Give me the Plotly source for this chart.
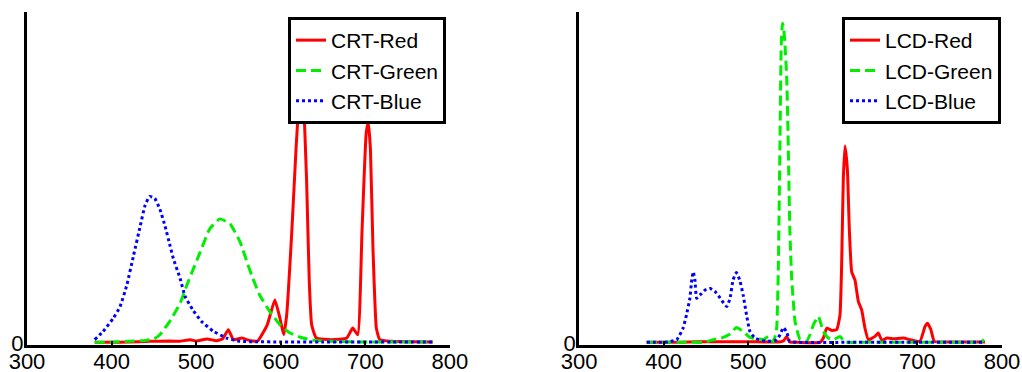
import plotly.graph_objects as go

# ---------------- data (wavelength nm, relative intensity) ----------------
crt_red_wl = [380, 400, 420, 445, 470, 480, 493, 500, 513, 524, 531, 538, 544, 554, 564, 573, 584, 593,
              599, 603.5, 607, 613, 618, 621.5, 624, 627, 630.6, 633.7, 636.5, 642, 660, 678, 685, 691,
              696, 701, 703.5, 706, 709, 713, 717, 730, 780]
crt_red_v = [0.002, 0.002, 0.003, 0.005, 0.006, 0.005, 0.01, 0.006, 0.012, 0.007, 0.012, 0.04, 0.01, 0.015,
             0.007, 0.007, 0.055, 0.13, 0.075, 0.025, 0.085, 0.335, 0.585, 0.735, 0.87, 0.735, 0.485, 0.185,
             0.055, 0.015, 0.01, 0.015, 0.045, 0.025, 0.335, 0.635, 0.667, 0.585, 0.285, 0.045, 0.01, 0.005,
             0.003]

crt_green_wl = [380, 400, 420, 440, 450, 457, 469, 481, 489, 496, 504, 516, 528, 540, 552, 560, 567, 575,
                587, 599, 611, 626, 640, 660, 700, 740, 780]
crt_green_v = [0.002, 0.003, 0.005, 0.008, 0.012, 0.025, 0.066, 0.12, 0.175, 0.22, 0.27, 0.345, 0.375, 0.36,
               0.305, 0.245, 0.195, 0.145, 0.095, 0.055, 0.03, 0.015, 0.008, 0.005, 0.003, 0.003, 0.003]

crt_blue_wl = [380, 390, 402, 410, 418, 426, 434, 439.5, 445, 451, 457, 463, 469, 473, 481, 487, 496, 506,
               520, 536, 552, 570, 600, 650, 700, 740, 780]
crt_blue_v = [0.01, 0.035, 0.075, 0.11, 0.175, 0.265, 0.355, 0.415, 0.443, 0.437, 0.405, 0.355, 0.295, 0.255,
              0.195, 0.14, 0.1, 0.066, 0.036, 0.015, 0.005, 0.004, 0.003, 0.003, 0.003, 0.003, 0.003]

lcd_red_wl = [380, 420, 441, 470, 498, 520, 535, 541.5, 545.5, 549, 560, 585, 588.8, 592.8, 598.7, 604.6,
              608.5, 610.5, 612.4, 614.4, 617.2, 619.5, 622.3, 626.2, 630.2, 634.1, 638, 642, 649.9, 653.8,
              658, 664, 672, 683.6, 691.5, 703, 709, 712, 716, 720, 740, 780]
lcd_red_v = [0.002, 0.002, 0.004, 0.004, 0.004, 0.003, 0.003, 0.006, 0.02, 0.003, 0.002, 0.002, 0.015, 0.045,
             0.038, 0.04, 0.085, 0.245, 0.495, 0.595, 0.525, 0.345, 0.215, 0.19, 0.125, 0.1, 0.045, 0.01,
             0.02, 0.03, 0.008, 0.015, 0.013, 0.015, 0.01, 0.005, 0.05, 0.06, 0.04, 0.005, 0.003, 0.003]

lcd_green_wl = [380, 413, 431, 446.6, 458.7, 470.6, 478.5, 486, 494, 502, 514, 518, 523.8, 529.7, 533.6,
                535.6, 537.6, 539, 540.5, 542, 543.5, 545.5, 547, 549.2, 551.4, 555.3, 561, 569, 573, 577,
                583, 588.8, 594.7, 600.6, 608.5, 614.4, 630, 680, 740, 775, 779]
lcd_green_v = [0.002, 0.002, 0.003, 0.002, 0.01, 0.017, 0.027, 0.047, 0.035, 0.017, 0.012, 0.01, 0.02, 0.003,
               0.045, 0.23, 0.625, 0.9, 0.966, 0.95, 0.9, 0.8, 0.64, 0.34, 0.195, 0.066, 0.012, 0.005, 0.025,
               0.055, 0.08, 0.035, 0.015, 0.01, 0.02, 0.003, 0.002, 0.002, 0.002, 0.003, 0.01]

lcd_blue_wl = [380, 405, 415.5, 423, 427, 431, 433, 435, 437, 439, 443, 449, 455, 461, 467, 474.6, 478.5,
               482, 486, 490, 494, 498, 502, 508, 522, 533.7, 537.6, 541.5, 545.5, 549, 560, 620, 700, 780]
lcd_blue_v = [0.002, 0.003, 0.01, 0.045, 0.085, 0.135, 0.185, 0.215, 0.19, 0.135, 0.145, 0.16, 0.165, 0.155,
              0.135, 0.11, 0.135, 0.19, 0.213, 0.19, 0.145, 0.085, 0.035, 0.015, 0.005, 0.01, 0.025, 0.047,
              0.033, 0.005, 0.002, 0.002, 0.002, 0.002]

x_ticks = [300, 400, 500, 600, 700, 800]
crt_names = ["CRT-Red", "CRT-Green", "CRT-Blue"]
lcd_names = ["LCD-Red", "LCD-Green", "LCD-Blue"]

# ---------------- styles ----------------
FONT = "Liberation Sans, Arial, sans-serif"
styles = [dict(color="#ff0000", dash="solid"),
          dict(color="#00ee00", dash="10px,5px"),
          dict(color="#0000ff", dash="dot")]

fig = go.Figure()
crt = [(crt_red_wl, crt_red_v), (crt_green_wl, crt_green_v), (crt_blue_wl, crt_blue_v)]
lcd = [(lcd_red_wl, lcd_red_v), (lcd_green_wl, lcd_green_v), (lcd_blue_wl, lcd_blue_v)]

for (wl, v), name, st in zip(crt, crt_names, styles):
    fig.add_trace(go.Scatter(x=wl, y=v, name=name, mode="lines", xaxis="x", yaxis="y", legend="legend",
                             line=dict(color=st["color"], dash=st["dash"], width=3, shape="spline",
                                       smoothing=0.4)))
for (wl, v), name, st in zip(lcd, lcd_names, styles):
    fig.add_trace(go.Scatter(x=wl, y=v, name=name, mode="lines", xaxis="x2", yaxis="y2", legend="legend2",
                             line=dict(color=st["color"], dash=st["dash"], width=3, shape="spline",
                                       smoothing=0.4)))

xax = dict(range=[300, 800], tickvals=x_ticks, showline=True, linewidth=3, linecolor="black",
           ticks="inside", ticklen=4, tickwidth=2, tickcolor="black", showgrid=False, zeroline=False,
           automargin=False, ticklabelstandoff=-5,
           tickfont=dict(size=22, color="black", family=FONT), fixedrange=True)
yax = dict(range=[-0.006, 1.0], tickvals=[0], ticktext=["0"], showline=True, linewidth=3,
           linecolor="black", ticks="", showgrid=False, zeroline=False, automargin=False,
           ticklabelstandoff=-4,
           tickfont=dict(size=22, color="black", family=FONT), fixedrange=True)

leg = dict(xanchor="left", yanchor="top", y=0.985, bgcolor="white", bordercolor="black", borderwidth=3,
           font=dict(size=21, color="black", family=FONT), tracegroupgap=0, itemwidth=30)

fig.update_layout(
    width=1022, height=372,
    margin=dict(l=27, r=20, t=12, b=27, autoexpand=False),
    paper_bgcolor="white", plot_bgcolor="white",
    font=dict(family=FONT, color="black"),
    xaxis=dict(domain=[0, 0.4338], anchor="y", **xax),
    yaxis=dict(anchor="x", **yax),
    xaxis2=dict(domain=[0.5662, 1.0], anchor="y2", **xax),
    yaxis2=dict(anchor="x2", **yax),
    legend=dict(x=0.2677, **leg),
    legend2=dict(x=0.8359, **leg),
    showlegend=True,
)

fig.write_html("out.html")
